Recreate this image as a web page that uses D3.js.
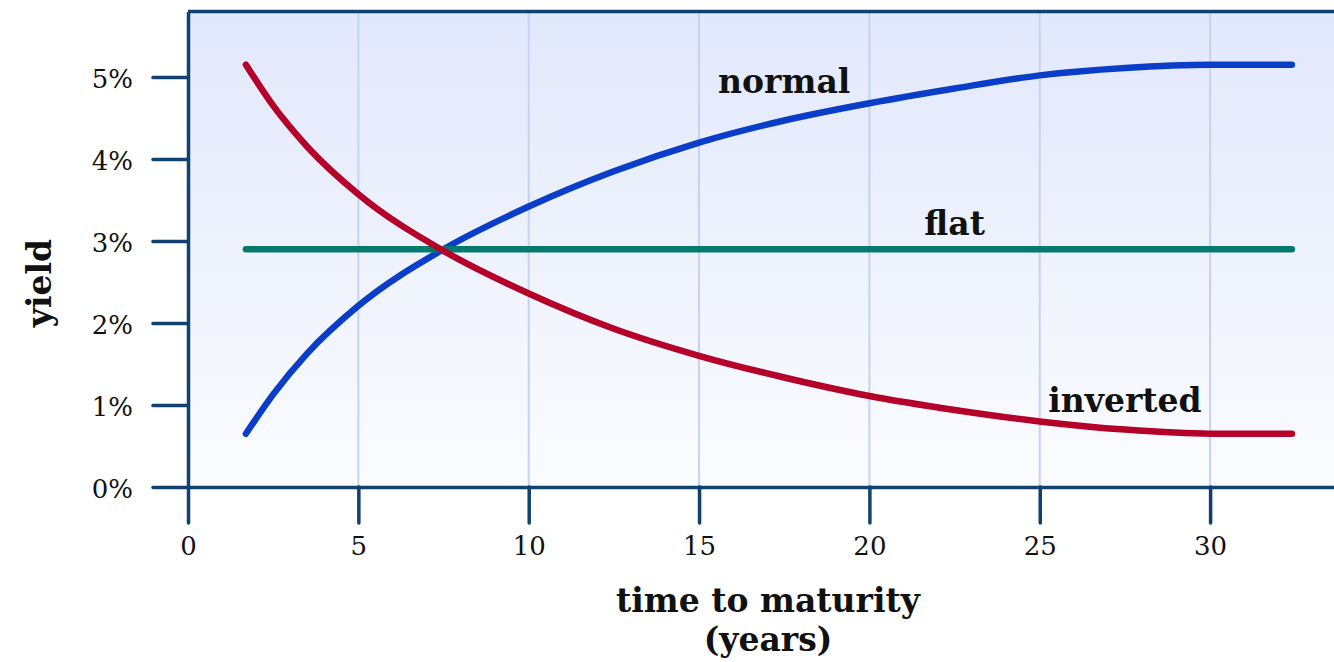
<!DOCTYPE html>
<html>
<head>
<meta charset="utf-8">
<script src="https://cdn.jsdelivr.net/npm/d3@7/dist/d3.min.js"></script>
<style>
html,body{margin:0;padding:0;background:#fff;}
svg{display:block;}
</style>
</head>
<body>
<svg id="chart" width="1334" height="662"></svg>
<script>
// ---- data ----
const years    = [1.7, 2.5, 3.5, 5, 7.5, 10, 12.5, 15, 17.5, 20, 22.5, 25, 27.5, 30, 32.4];
const normal   = [0.65, 1.13, 1.63, 2.21, 2.90, 3.42, 3.85, 4.20, 4.47, 4.68, 4.86, 5.02, 5.11, 5.15, 5.15];
const inverted = [5.15, 4.65, 4.15, 3.57, 2.88, 2.36, 1.93, 1.60, 1.335, 1.11, 0.94, 0.80, 0.70, 0.65, 0.65];
const flat     = [2.90, 2.90, 2.90, 2.90, 2.90, 2.90, 2.90, 2.90, 2.90, 2.90, 2.90, 2.90, 2.90, 2.90, 2.90];
const xTicks = [0, 5, 10, 15, 20, 25, 30];
const yTicks = [0, 1, 2, 3, 4, 5];
const seriesNames = ["normal", "flat", "inverted"];
const labelPos = [[17.5, 4.80], [22.5, 3.07], [27.5, 0.92]]; // [years, yield] anchors for series labels

const svg = d3.select("#chart");
const font = "'DejaVu Serif', Georgia, serif";
const axisColor = "#10416f";

const x = d3.scaleLinear().domain([0, 35]).range([188, 188 + 35 * 34.07]);
const y = d3.scaleLinear().domain([0, 5.8]).range([487, 11.4]);

// background gradient
const defs = svg.append("defs");
const grad = defs.append("linearGradient").attr("id", "bg").attr("x1", 0).attr("y1", 0).attr("x2", 0).attr("y2", 1);
grad.append("stop").attr("offset", "0%").attr("stop-color", "#e1e8fb");
grad.append("stop").attr("offset", "100%").attr("stop-color", "#fbfcff");

svg.append("rect")
  .attr("x", x(0)).attr("y", y(5.8))
  .attr("width", 1334 - x(0)).attr("height", y(0) - y(5.8))
  .attr("fill", "url(#bg)");

// vertical gridlines
svg.append("g").selectAll("line").data(xTicks.filter(d => d > 0)).join("line")
  .attr("x1", d => x(d)).attr("x2", d => x(d))
  .attr("y1", y(5.8)).attr("y2", y(0))
  .attr("stroke", "#c3d3f6").attr("stroke-width", 2);

// top border
svg.append("line")
  .attr("x1", x(0)).attr("x2", 1334)
  .attr("y1", y(5.8)).attr("y2", y(5.8))
  .attr("stroke", axisColor).attr("stroke-width", 3.5);

// axes
const gx = svg.append("g").attr("transform", `translate(0,${y(0)})`)
  .call(d3.axisBottom(x).tickValues(xTicks).tickSize(36).tickSizeOuter(0).tickPadding(14).tickFormat(d3.format("d")));
const gy = svg.append("g").attr("transform", `translate(${x(0)},0)`)
  .call(d3.axisLeft(y).tickValues(yTicks).tickSize(35).tickSizeOuter(0).tickPadding(20).tickFormat(d => d + "%"));

[gx, gy].forEach(g => {
  g.select(".domain").attr("stroke", axisColor).attr("stroke-width", 3.5);
  g.selectAll(".tick line").attr("stroke", axisColor).attr("stroke-width", 3.5).attr("stroke-linecap", "round");
  g.selectAll("text").attr("fill", "#111").style("font-family", font).style("font-size", "26px");
});
gy.selectAll("text").attr("dy", "0.4em");

// lines
const allSeries = [normal, flat, inverted];
const colors = ["#0a3ec8", "#047a6e", "#b5002a"];
const line = d3.line().x((d, i) => x(years[i])).y(d => y(d)).curve(d3.curveMonotoneX);

svg.append("g").selectAll("path").data(allSeries).join("path")
  .attr("d", d => line(d))
  .attr("fill", "none")
  .attr("stroke", (d, i) => colors[i])
  .attr("stroke-width", 6.5)
  .attr("stroke-linecap", "round")
  .attr("stroke-linejoin", "round");

// series labels
svg.append("g").selectAll("text").data(seriesNames).join("text")
  .attr("x", (d, i) => x(labelPos[i][0]))
  .attr("y", (d, i) => y(labelPos[i][1]))
  .attr("text-anchor", "middle")
  .style("font-family", font).style("font-weight", "bold").style("font-size", "33px")
  .attr("fill", "#111")
  .text(d => d);

// axis titles
svg.append("text").attr("x", 768).attr("y", 612).attr("text-anchor", "middle")
  .style("font-family", font).style("font-weight", "bold").style("font-size", "33px").attr("fill", "#111")
  .text("time to maturity");
svg.append("text").attr("x", 768).attr("y", 651).attr("text-anchor", "middle")
  .style("font-family", font).style("font-weight", "bold").style("font-size", "33px").attr("fill", "#111")
  .text("(years)");
svg.append("text").attr("transform", "translate(51,283) rotate(-90)").attr("text-anchor", "middle")
  .style("font-family", font).style("font-weight", "bold").style("font-size", "33px").attr("fill", "#111")
  .text("yield");
</script>
</body>
</html>
